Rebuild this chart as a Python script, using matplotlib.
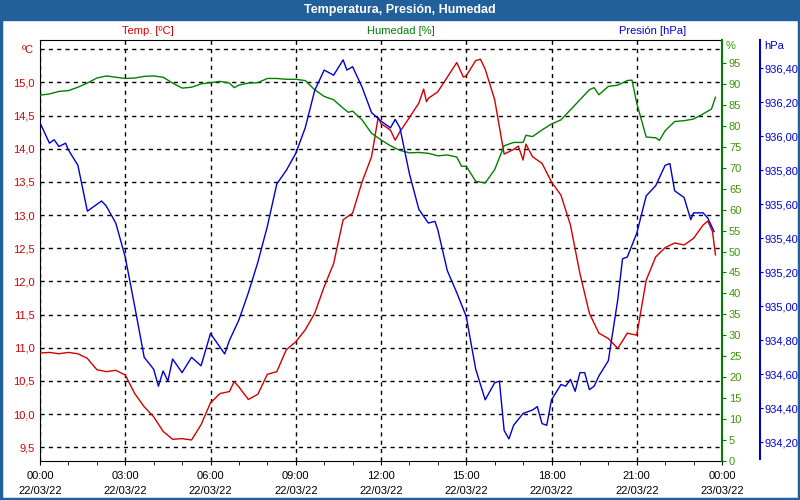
import matplotlib
matplotlib.use('Agg')
import matplotlib.pyplot as plt
from matplotlib.patches import Rectangle
from matplotlib.ticker import FuncFormatter, MultipleLocator

plt.rcParams['font.family'] = ['Liberation Sans', 'DejaVu Sans']

# hours since 22/03/22 00:00
t_temp = [0, 0.333, 0.667, 1.0, 1.333, 1.667, 2.0, 2.333, 2.667, 3.0, 3.333, 3.667, 4.0, 4.333, 4.667,
          5.0, 5.333, 5.667, 6.0, 6.333, 6.667, 6.833, 7.0, 7.333, 7.667, 8.0, 8.333, 8.667, 9.0, 9.333,
          9.667, 10.0, 10.333, 10.667, 11.0, 11.333, 11.667, 11.9, 12.0, 12.333, 12.5, 12.667, 13.0,
          13.333, 13.5, 13.6, 13.667, 14.0, 14.333, 14.667, 14.9, 15.0, 15.333, 15.5, 15.667, 16.0,
          16.333, 16.667, 16.833, 17.0, 17.1, 17.333, 17.667, 18.0, 18.333, 18.667, 19.0, 19.333,
          19.667, 20.0, 20.333, 20.667, 21.0, 21.333, 21.667, 22.0, 22.333, 22.667, 23.0, 23.333,
          23.5, 23.667, 23.77]
temp = [10.92, 10.93, 10.91, 10.93, 10.91, 10.84, 10.67, 10.64, 10.66, 10.59, 10.31, 10.11, 9.96, 9.74,
        9.62, 9.63, 9.61, 9.84, 10.17, 10.31, 10.34, 10.49, 10.41, 10.22, 10.30, 10.60, 10.64, 10.97,
        11.09, 11.27, 11.52, 11.92, 12.27, 12.93, 13.03, 13.50, 13.88, 14.47, 14.38, 14.28, 14.13,
        14.26, 14.47, 14.69, 14.90, 14.71, 14.76, 14.86, 15.08, 15.30, 15.08, 15.10, 15.33, 15.35,
        15.20, 14.74, 13.92, 13.99, 14.04, 13.83, 14.07, 13.88, 13.78, 13.50, 13.30, 12.85, 12.12,
        11.52, 11.22, 11.14, 10.99, 11.22, 11.19, 12.02, 12.37, 12.51, 12.58, 12.55, 12.65, 12.85,
        12.91, 12.75, 12.40]

t_hum = [0, 0.333, 0.667, 1.0, 1.333, 1.667, 2.0, 2.333, 2.667, 3.0, 3.333, 3.667, 4.0, 4.333, 4.667,
         5.0, 5.333, 5.667, 6.0, 6.333, 6.667, 6.833, 7.0, 7.333, 7.667, 8.0, 8.333, 8.667, 9.0, 9.333,
         9.667, 10.0, 10.333, 10.667, 10.85, 11.0, 11.333, 11.667, 12.0, 12.333, 12.667, 13.0, 13.333,
         13.667, 14.0, 14.333, 14.667, 14.833, 15.0, 15.333, 15.667, 16.0, 16.333, 16.667, 17.0, 17.1,
         17.333, 17.667, 18.0, 18.333, 18.667, 19.0, 19.333, 19.5, 19.667, 20.0, 20.333, 20.667,
         20.833, 21.0, 21.333, 21.667, 21.8, 22.0, 22.333, 22.667, 23.0, 23.333, 23.63, 23.77]
hum = [87.4, 87.7, 88.3, 88.5, 89.3, 90.3, 91.5, 92.0, 91.7, 91.4, 91.5, 91.9, 92.0, 91.7, 90.3,
       89.1, 89.3, 90.1, 90.4, 90.7, 90.3, 89.2, 89.8, 90.3, 90.4, 91.4, 91.4, 91.2, 91.2, 90.9,
       88.7, 87.1, 86.3, 84.3, 83.3, 83.6, 81.5, 78.3, 76.7, 75.3, 74.2, 73.6, 73.7, 73.5, 72.9,
       73.1, 72.6, 70.4, 70.4, 66.8, 66.4, 69.6, 75.3, 76.1, 76.1, 77.8, 77.5, 79.1, 80.5, 81.5,
       83.9, 86.3, 88.7, 89.2, 87.5, 89.5, 89.8, 90.9, 91.0, 85.5, 77.4, 77.2, 76.6, 78.9, 81.1,
       81.3, 81.7, 82.9, 84.1, 86.9]

t_pres = [0, 0.333, 0.5, 0.667, 0.9, 1.0, 1.333, 1.667, 2.0, 2.167, 2.333, 2.667, 3.0, 3.333, 3.667,
          4.0, 4.167, 4.333, 4.5, 4.667, 5.0, 5.333, 5.667, 6.0, 6.333, 6.5, 6.667, 7.0, 7.333, 7.667,
          8.0, 8.333, 8.667, 9.0, 9.333, 9.667, 10.0, 10.333, 10.667, 10.8, 11.0, 11.333, 11.667, 12.0,
          12.333, 12.5, 12.667, 13.0, 13.333, 13.667, 13.9, 14.0, 14.333, 14.667, 15.0, 15.333, 15.667,
          16.0, 16.167, 16.333, 16.5, 16.667, 17.0, 17.333, 17.5, 17.667, 17.833, 18.0, 18.333, 18.5,
          18.667, 18.833, 19.0, 19.167, 19.333, 19.5, 19.667, 20.0, 20.333, 20.5, 20.667, 21.0, 21.333,
          21.667, 22.0, 22.167, 22.333, 22.667, 22.9, 23.0, 23.333, 23.5, 23.72]
pres = [936.08, 935.96, 935.98, 935.94, 935.96, 935.92, 935.83, 935.56, 935.60, 935.62, 935.59,
        935.49, 935.29, 935.00, 934.70, 934.63, 934.53, 934.62, 934.56, 934.69, 934.61, 934.70,
        934.65, 934.84, 934.76, 934.72, 934.80, 934.92, 935.08, 935.26, 935.47, 935.72, 935.80,
        935.90, 936.05, 936.27, 936.39, 936.36, 936.45, 936.39, 936.41, 936.29, 936.14, 936.09,
        936.05, 936.10, 936.05, 935.78, 935.57, 935.49, 935.50, 935.45, 935.21, 935.08, 934.94,
        934.63, 934.45, 934.55, 934.56, 934.27, 934.22, 934.30, 934.37, 934.39, 934.41, 934.31,
        934.30, 934.45, 934.54, 934.53, 934.57, 934.50, 934.61, 934.61, 934.51, 934.53, 934.59,
        934.68, 935.04, 935.28, 935.29, 935.43, 935.65, 935.71, 935.83, 935.84, 935.68, 935.64,
        935.51, 935.55, 935.55, 935.52, 935.44]

xticks = [0, 3, 6, 9, 12, 15, 18, 21, 24]
xlabels = ['00:00\n22/03/22', '03:00\n22/03/22', '06:00\n22/03/22', '09:00\n22/03/22',
           '12:00\n22/03/22', '15:00\n22/03/22', '18:00\n22/03/22', '21:00\n22/03/22',
           '00:00\n23/03/22']

RED = '#d00000'
GREEN = '#008000'
BLUE = '#0000d0'
BAR = '#21609a'
FS = 8

fig = plt.figure(figsize=(8, 5), dpi=100)
fig.patch.set_facecolor('white')
fig.patches.append(Rectangle((0, 1 - 20 / 500), 1, 20 / 500, transform=fig.transFigure,
                             color=BAR, zorder=0))
fig.patches.append(Rectangle((0.001, 0.002), 0.998, 0.996, transform=fig.transFigure,
                             fill=False, edgecolor=BAR, linewidth=2.5, zorder=5))
fig.text(0.5, 1 - 10 / 500, 'Temperatura, Presión, Humedad', color='white', fontsize=9,
         fontweight='bold', ha='center', va='center')

ax = fig.add_axes([40 / 800, 39 / 500, 682 / 800, 421 / 500])
axh = ax.twinx()
axp = ax.twinx()

# grid
ax.set_xlim(0, 24)
ax.set_ylim(9.293, 15.64)
ax.set_yticks([9.5 + 0.5 * i for i in range(13)])
ax.yaxis.set_major_formatter(FuncFormatter(
    lambda v, p: 'ºC' if v > 15.4 else ('%.1f' % v).replace('.', ',')))
ax.set_xticks(xticks)
ax.set_xticklabels(xlabels, linespacing=1.6)
ax.xaxis.set_minor_locator(MultipleLocator(1))
ax.grid(True, color='black', linestyle=(0, (3, 3)), linewidth=1)
ax.tick_params(axis='y', colors=RED, length=0, labelsize=FS, pad=4)
ax.tick_params(axis='x', which='both', colors='black', length=3, labelsize=FS, direction='out', pad=4)
for s in ['left', 'top', 'bottom']:
    ax.spines[s].set_color('black')
ax.spines['right'].set_visible(False)

axh.set_ylim(-0.1, 100.6)
axh.set_yticks(range(0, 100, 5))
axh.spines['right'].set_color(GREEN)
axh.spines['right'].set_linewidth(1.5)
for s in ['left', 'top', 'bottom']:
    axh.spines[s].set_visible(False)
axh.tick_params(axis='y', colors=GREEN, length=3, labelsize=FS, pad=2)
for lab in axh.get_yticklabels():
    lab.set_color('#3a9a00')

axp.set_ylim(934.09, 936.567)
axp.set_yticks([934.2 + 0.2 * i for i in range(12)])
axp.yaxis.set_major_formatter(FuncFormatter(lambda v, p: ('%.2f' % v).replace('.', ',')))
axp.spines['right'].set_position(('axes', (760 - 40) / 682))
axp.spines['right'].set_color(BLUE)
axp.spines['right'].set_linewidth(1.5)
axp.spines['right'].set_bounds(934.1, 936.567)
for s in ['left', 'top', 'bottom']:
    axp.spines[s].set_visible(False)
axp.tick_params(axis='y', colors=BLUE, length=2, labelsize=FS, pad=1)

ax.plot(t_temp, temp, color=RED, linewidth=1, zorder=3)
axh.plot(t_hum, hum, color=GREEN, linewidth=1)
axp.plot(t_pres, pres, color=BLUE, linewidth=1)

fig.text(148 / 800, 1 - 31 / 500, 'Temp. [ºC]', color=RED, fontsize=FS, ha='center', va='center')
fig.text(401 / 800, 1 - 31 / 500, 'Humedad [%]', color=GREEN, fontsize=FS, ha='center', va='center')
fig.text(653 / 800, 1 - 31 / 500, 'Presión [hPa]', color=BLUE, fontsize=FS, ha='center', va='center')
fig.text(726 / 800, 1 - 46 / 500, '%', color='#3a9a00', fontsize=FS, ha='left', va='center')
fig.text(764 / 800, 1 - 46 / 500, 'hPa', color=BLUE, fontsize=FS, ha='left', va='center')

fig.savefig('out.png', dpi=100)
